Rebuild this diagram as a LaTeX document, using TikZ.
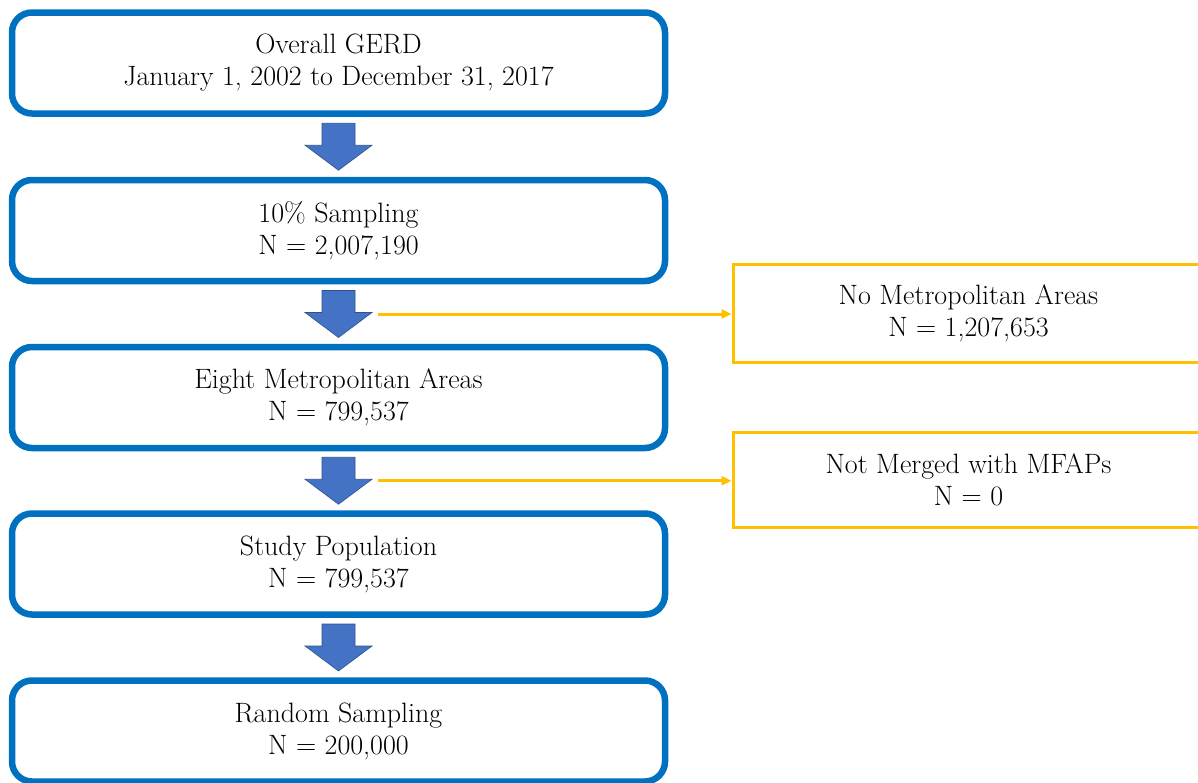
\documentclass[tikz,border=0pt]{standalone}
\usetikzlibrary{arrows.meta,calc}
\definecolor{boxblue}{RGB}{0,112,192}
\definecolor{arrblue}{RGB}{68,114,196}
\definecolor{arredge}{RGB}{47,82,143}
\definecolor{ygold}{RGB}{255,192,0}
\newcommand{\blockarrowat}[1]{%
  \draw[blockarrow] ([shift={(-16.5,-23.5)}]#1) -- ([shift={(16.5,-23.5)}]#1)
    -- ([shift={(16.5,-1.5)}]#1) -- ([shift={(33.5,-1.5)}]#1)
    -- ([shift={(0,23.5)}]#1) -- ([shift={(-33.5,-1.5)}]#1)
    -- ([shift={(-16.5,-1.5)}]#1) -- cycle;}
\begin{document}
\begin{tikzpicture}[x=1pt,y=-1pt,
  bluebox/.style={draw=boxblue,line width=6.5pt,rounded corners=20pt,
    minimum width=653pt,minimum height=101pt,align=center,inner sep=0pt,
    font=\fontsize{28}{32}\selectfont},
  goldbox/.style={draw=ygold,line width=3pt,minimum width=471pt,
    align=center,inner sep=0pt,font=\fontsize{28}{32}\selectfont},
  blockarrow/.style={fill=arrblue,draw=arredge,line width=0.6pt,line join=miter},
  goldline/.style={draw=ygold,line width=3pt,-{Triangle[length=10pt,width=9pt]}}
]
\useasboundingbox (0,0) rectangle (1198,782);
\node[bluebox] (b1) at (338.5,63) {Overall GERD\\January 1, 2002 to December 31, 2017};
\node[bluebox] (b2) at (338.5,230.5) {10\% Sampling\\N = 2,007,190};
\node[bluebox] (b3) at (338.5,397.5) {Eight Metropolitan Areas\\N = 799,537};
\node[bluebox] (b4) at (338.5,564) {Study Population\\N = 799,537};
\node[bluebox] (b5) at (338.5,731) {Random Sampling\\N = 200,000};
\coordinate (a1) at ($(b1.south)!0.5!(b2.north)$);
\coordinate (a2) at ($(b2.south)!0.5!(b3.north)$);
\coordinate (a3) at ($(b3.south)!0.5!(b4.north)$);
\coordinate (a4) at ($(b4.south)!0.5!(b5.north)$);
\blockarrowat{a1}
\blockarrowat{a2}
\blockarrowat{a3}
\blockarrowat{a4}
\node[goldbox,minimum height=98pt] (y1) at (968.5,313) {No Metropolitan Areas\\N = 1,207,653};
\node[goldbox,minimum height=95pt] (y2) at (968.5,479.5) {Not Merged with MFAPs\\N = 0};
\coordinate (s1) at ($(a2)+(39.5,0)$);
\coordinate (s2) at ($(a3)+(39.5,0)$);
\draw[goldline] (s1) -- (s1 -| y1.west);
\draw[goldline] (s2) -- (s2 -| y2.west);
\end{tikzpicture}
\end{document}
